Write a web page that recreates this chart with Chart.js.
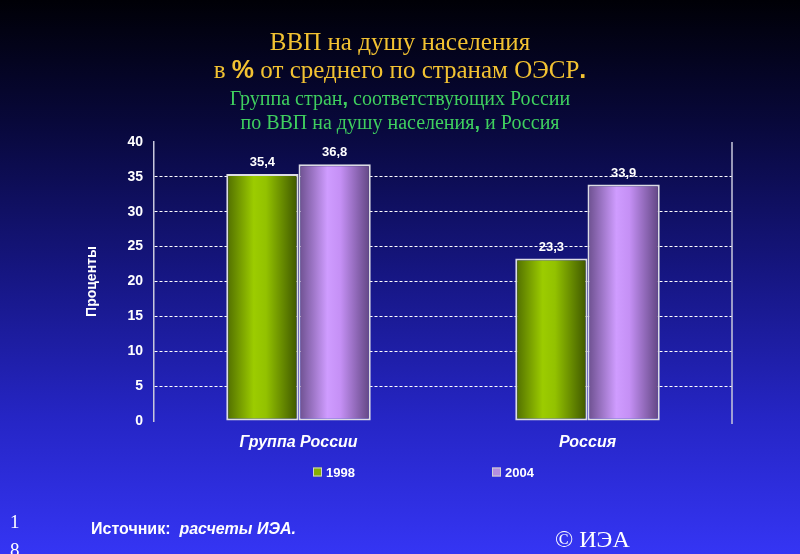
<!DOCTYPE html>
<html>
<head>
<meta charset="utf-8">
<title>ВВП на душу населения</title>
<style>
  body { margin: 0; }
  #slide {
    position: relative; width: 800px; height: 554px; overflow: hidden;
    background: linear-gradient(to bottom, #000006 0%, #08083a 22%, #15157e 48%, #2525c4 75%, #3535f4 100%);
  }
  #chart { position: absolute; left: 0; top: 0; }
  .t { position: absolute; left: 0; width: 800px; text-align: center; white-space: nowrap;
       font-family: "Liberation Serif", "Times New Roman", serif; line-height: 1; }
  .gold { color: #f2c232; font-size: 25px; }
  .green { color: #3fcf5f; font-size: 20px; }
  .b { font-family: "Liberation Sans", Arial, sans-serif; font-weight: bold; }
  .foot { position: absolute; color: #fff; white-space: nowrap; line-height: 1; }
</style>
<script src="https://cdn.jsdelivr.net/npm/chart.js"></script>
</head>
<body>
<div id="slide">
  <canvas id="chart" width="800" height="554"></canvas>
  <div class="t gold" style="top:29px;">ВВП на душу населения</div>
  <div class="t gold" style="top:57px;">в <span class="b">%</span> от среднего по странам ОЭСР<span class="b">.</span></div>
  <div class="t green" style="top:88px;">Группа стран<span class="b">,</span> соответствующих России</div>
  <div class="t green" style="top:112px;">по ВВП на душу населения<span class="b">,</span> и Россия</div>
  <div class="foot" style="left:91px; top:520px; font:bold 16px 'Liberation Sans', Arial, sans-serif;">Источник:&nbsp;&nbsp;<i>расчеты ИЭА.</i></div>
  <div class="foot" style="left:555px; top:526px; font:24px 'Liberation Serif', serif;">© ИЭА</div>
  <div class="foot" style="left:10px; top:511px; font:19px 'Liberation Serif', serif;">1</div>
  <div class="foot" style="left:10px; top:539px; font:19px 'Liberation Serif', serif;">8</div>
</div>
<script>
  const categories = ['Группа России', 'Россия'];
  const seriesNames = ['1998', '2004'];
  const values1998 = [35.4, 23.3];
  const values2004 = [36.8, 33.9];
  const yMax = 40, yStep = 5;

  const CAT_PCT = 0.5, BAR_PCT = 1.0;
  const greenStops = [[0, '#4f6c00'], [0.38, '#9ccc00'], [0.55, '#93c200'], [1, '#3c5400']];
  const purpleStops = [[0, '#6a4e8c'], [0.4, '#cf9cff'], [0.58, '#c590f5'], [1, '#5f4480']];

  // horizontal gradient across each bar, placed with the x scale
  function barFill(stops) {
    return function(ctx) {
      const chart = ctx.chart, xs = chart.scales.x;
      if (ctx.type !== 'data' || !chart.chartArea || !xs) return stops[1][1];
      const n = chart.data.datasets.length;
      const group = xs.width / categories.length * CAT_PCT;
      const slot = group / n, bw = slot * BAR_PCT;
      const left = xs.getPixelForValue(ctx.dataIndex) - group / 2 + ctx.datasetIndex * slot + (slot - bw) / 2;
      const g = chart.ctx.createLinearGradient(left, 0, left + bw, 0);
      stops.forEach(s => g.addColorStop(s[0], s[1]));
      return g;
    };
  }

  const valueLabels = {
    id: 'valueLabels',
    afterDatasetsDraw(chart) {
      const c = chart.ctx;
      c.save();
      c.font = 'bold 13px "Liberation Sans", Arial, sans-serif';
      c.fillStyle = '#ffffff';
      c.textAlign = 'center';
      c.textBaseline = 'bottom';
      chart.data.datasets.forEach((ds, di) => {
        chart.getDatasetMeta(di).data.forEach((bar, i) => {
          c.fillText(String(ds.data[i]).replace('.', ','), bar.x, bar.y - 5);
        });
      });
      c.restore();
    }
  };

  const rightFrame = {
    id: 'rightFrame',
    afterDraw(chart) {
      const a = chart.chartArea, c = chart.ctx;
      c.save();
      c.strokeStyle = '#c8c8dc';
      c.lineWidth = 1.5;
      c.beginPath();
      c.moveTo(a.right, a.top);
      c.lineTo(a.right, a.bottom + 3);
      c.stroke();
      c.restore();
    }
  };

  // legend with wide spacing, as on the slide
  const spreadLegend = {
    id: 'spreadLegend',
    afterDraw(chart, args, opts) {
      const c = chart.ctx;
      c.save();
      c.font = 'bold 13px "Liberation Sans", Arial, sans-serif';
      c.textBaseline = 'middle';
      c.textAlign = 'left';
      chart.data.datasets.forEach((ds, i) => {
        const x = opts.xs[i], y = opts.y;
        c.fillStyle = ds.legendColor;
        c.fillRect(x, y - 4.5, 9, 9);
        c.strokeStyle = '#d0d0d0';
        c.lineWidth = 1;
        c.strokeRect(x + 0.5, y - 4, 8, 8);
        c.fillStyle = '#ffffff';
        c.fillText(ds.label, x + 13, y + 1);
      });
      c.restore();
    }
  };

  new Chart(document.getElementById('chart'), {
    type: 'bar',
    data: {
      labels: categories,
      datasets: [
        { label: seriesNames[0], data: values1998, backgroundColor: barFill(greenStops), legendColor: '#86b000' },
        { label: seriesNames[1], data: values2004, backgroundColor: barFill(purpleStops), legendColor: '#b48ee0' }
      ]
    },
    options: {
      responsive: false,
      animation: false,
      layout: { padding: { left: 80, right: 68, top: 142, bottom: 0 } },
      datasets: {
        bar: {
          categoryPercentage: CAT_PCT,
          barPercentage: BAR_PCT,
          borderColor: '#dcdce4',
          borderWidth: 2,
          borderSkipped: false
        }
      },
      plugins: {
        legend: { display: false },
        tooltip: { enabled: false },
        spreadLegend: { xs: [313, 492], y: 472 }
      },
      scales: {
        x: {
          afterFit: s => { s.height = 133; },
          grid: { display: false },
          border: { display: false },
          ticks: {
            color: '#ffffff',
            padding: 4,
            font: { family: '"Liberation Sans", Arial, sans-serif', size: 16, weight: 'bold', style: 'italic' }
          }
        },
        y: {
          min: 0, max: yMax,
          afterFit: s => { s.width = 74; },
          grid: {
            drawTicks: false,
            color: c => (c.tick && (c.tick.value === 0 || c.tick.value === yMax)) ? 'rgba(0,0,0,0)' : '#ffffff',
            lineWidth: 1
          },
          border: { display: true, color: '#c8c8dc', width: 1.5, dash: [3, 2] },
          ticks: {
            stepSize: yStep,
            color: '#ffffff',
            padding: 11,
            font: { family: '"Liberation Sans", Arial, sans-serif', size: 14, weight: 'bold' }
          },
          title: {
            display: true,
            text: 'Проценты',
            color: '#ffffff',
            font: { family: '"Liberation Sans", Arial, sans-serif', size: 14, weight: 'bold' }
          }
        }
      }
    },
    plugins: [valueLabels, rightFrame, spreadLegend]
  });
</script>
</body>
</html>
